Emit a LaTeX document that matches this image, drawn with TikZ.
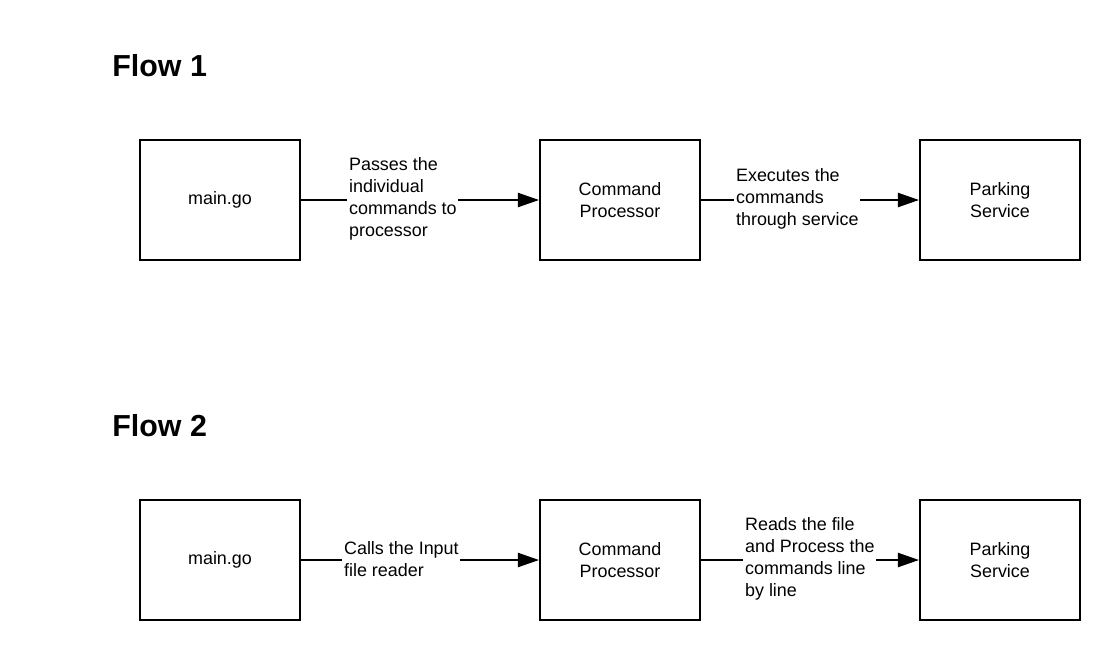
\documentclass[tikz,border=0pt]{standalone}
\usepackage{fontspec}
\setmainfont{Liberation Sans}
\usepackage{tikz}
\usetikzlibrary{arrows.meta}
\tikzset{
  blk/.style={draw=black, line width=1.1pt, fill=white, minimum width=160*0.02cm,
    minimum height=120*0.02cm, align=center, font=\fontsize{10.2}{12.3}\selectfont},
  lbl/.style={fill=white, anchor=west, align=left, inner sep=1pt,
    font=\fontsize{10.2}{12.4}\selectfont},
  ttl/.style={anchor=west, inner sep=0pt, font=\fontsize{17.3}{20}\selectfont\bfseries},
  arr/.style={-{Triangle[length=12pt, width=8pt]}, line width=1.1pt},
}
\begin{document}
\begin{tikzpicture}[x=0.02cm, y=-0.02cm]
  \useasboundingbox (0,0) rectangle (1120,660);
  % first flow
  \node[ttl] (t1)    at (112,66)  {Flow 1};
  \node[blk] (main1) at (220,200) {main.go};
  \node[blk] (cmd1)  at (620,200) {Command\\Processor};
  \node[blk] (park1) at (1000,200) {Parking\\Service};
  \draw[arr] (main1) -- (cmd1);
  \draw[arr] (cmd1) -- (park1);
  \node[lbl] (l11) at (347,199) {Passes the\\individual\\commands to\\processor};
  \node[lbl] (l12) at (734,199) {Executes the\\commands\\through service};
  % second flow
  \node[ttl] (t2)    at (112,426) {Flow 2};
  \node[blk] (main2) at (220,560) {main.go};
  \node[blk] (cmd2)  at (620,560) {Command\\Processor};
  \node[blk] (park2) at (1000,560) {Parking\\Service};
  \draw[arr] (main2) -- (cmd2);
  \draw[arr] (cmd2) -- (park2);
  \node[lbl] (l21) at (342,559) {Calls the Input\\file reader};
  \node[lbl] (l22) at (743,559) {Reads the file\\and Process the\\commands line\\by line};
\end{tikzpicture}
\end{document}
